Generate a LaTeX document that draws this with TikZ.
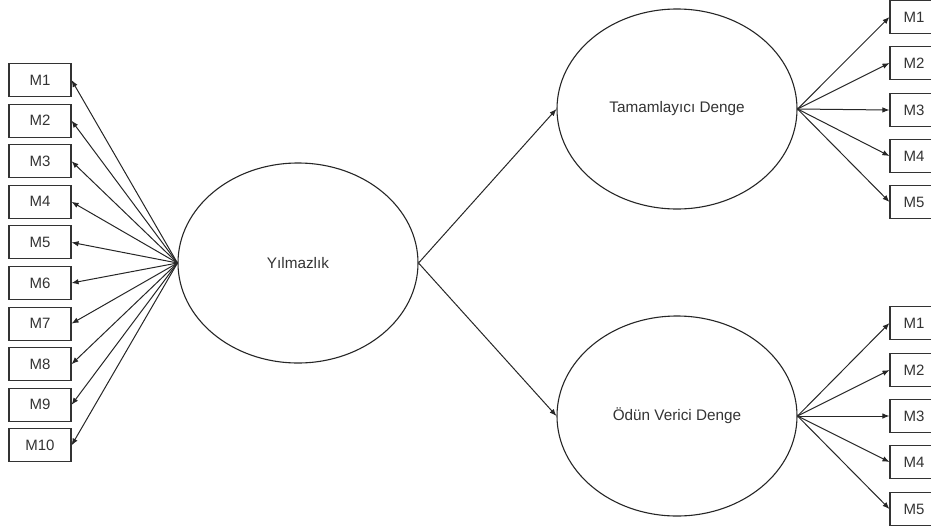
\documentclass[tikz,border=0pt]{standalone}
\usepackage{fontspec}
\setmainfont{Liberation Sans}
\usetikzlibrary{shapes.geometric,arrows.meta}
\begin{document}
\begin{tikzpicture}[x=1pt,y=-1pt,
  latent/.style={draw=black!85, line width=1.1pt, ellipse, minimum width=240pt,
    minimum height=200pt, inner sep=0pt, text=black!80, font=\fontsize{15.3}{18}\selectfont},
  indicator/.style={draw=black!80, line width=1.1pt, rectangle, minimum width=62pt,
    minimum height=33pt, inner sep=0pt, text=black!80, font=\fontsize{15}{18}\selectfont},
  link/.style={draw=black!85, line width=1pt, -{Latex[length=7pt,width=5.5pt]}}]
\useasboundingbox (0,0) rectangle (931,531);

% latent constructs
\node[latent] (Y) at (298,263) {Yılmazlık};
\node[latent] (T) at (677,109) {Tamamlayıcı Denge};
\node[latent] (O) at (677,416) {Ödün Verici Denge};

\draw[link] (Y.east) -- (T.west);
\draw[link] (Y.east) -- (O.west);

% items of Yılmazlık
\foreach \i in {1,...,10} {
  \node[indicator] (L\i) at (40,{80+40.6*(\i-1)}) {M\i};
  \draw[link] (Y.west) -- (L\i.east);
}

% items of Tamamlayıcı Denge
\foreach \i/\yy in {1/17,2/63,3/110,4/156,5/202} {
  \node[indicator, minimum width=48pt] (T\i) at (914,\yy) {M\i};
  \draw[link] (T.east) -- (T\i.west);
}

% items of Ödün Verici Denge
\foreach \i/\yy in {1/323,2/370,3/416,4/462,5/509} {
  \node[indicator, minimum width=48pt] (O\i) at (914,\yy) {M\i};
  \draw[link] (O.east) -- (O\i.west);
}
\end{tikzpicture}
\end{document}
